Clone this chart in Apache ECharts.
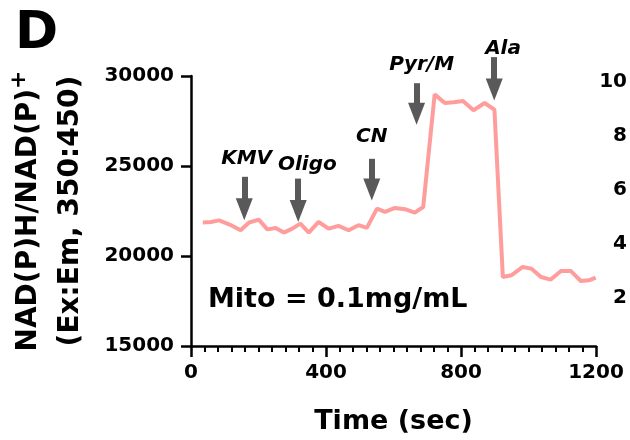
<!DOCTYPE html>
<html>
<head>
<meta charset="utf-8">
<script src="https://cdn.jsdelivr.net/npm/echarts@6.0.0/dist/echarts.min.js"></script>
<style>
  html, body { margin: 0; padding: 0; background: #fff; }
  #main { width: 630px; height: 440px; }
</style>
</head>
<body>
<div id="main"></div>
<script>
// time points (sec) and NAD(P)H signal
var times = [35, 59, 83, 113, 147, 172, 201, 226, 251, 275, 300, 324, 349, 378, 408, 437, 467, 496, 521, 551,
             575, 604, 634, 663, 688, 722, 752, 778, 806, 837, 870, 899, 924, 949, 983, 1008, 1037, 1066, 1096,
             1125, 1155, 1179, 1199];
var signal = [21860, 21890, 21980, 21760, 21430, 21860, 22020, 21480, 21560, 21300, 21520, 21800, 21300, 21890,
              21520, 21670, 21430, 21710, 21560, 22630, 22450, 22670, 22600, 22410, 22720, 28980, 28500, 28540,
              28610, 28100, 28500, 28130, 18830, 18930, 19390, 19300, 18830, 18690, 19170, 19170, 18610, 18650, 18800];

// additions (arrows): shaft top value, arrow head centre value, label position
var arrowNames = ['KMV', 'Oligo', 'CN', 'Pyr/M', 'Ala'];
var arrowTimes = [160, 319, 536, 668, 897];
var arrowTops = [24400, 24300, 25400, 29600, 31050];
var arrowHeads = [22600, 22500, 23700, 27900, 29250];
var labelTimes = [167, 346, 536, 683, 923];
var labelValues = [25400, 25050, 26600, 30600, 31500];

var xTicks = [0, 1200, 400];          // min, max, interval
var yTicks = [15000, 30000, 5000];
var y2Ticks = [0, 10, 2];
var yAnnoMax = 32000;                 // same scale, room above the plot for the arrows

var font = 'DejaVu Sans';
var plain = function (v) { return String(v); };

var lineData = times.map(function (t, i) { return [t, signal[i]]; });

var arrowLines = arrowTimes.map(function (t, i) {
    return [{coord: [t, arrowTops[i]]}, {coord: [t, arrowHeads[i]]}];
});
var arrowLabels = arrowNames.map(function (n, i) {
    return {name: n, coord: [labelTimes[i], labelValues[i]]};
});

// second (invisible) grid sharing the same pixel scale, 90px per 5000, extended to yAnnoMax
var pxPerUnit = 90 / 5000;
var annoTop = 76 - (yAnnoMax - yTicks[1]) * pxPerUnit;

var option = {
    animation: false,
    grid: [
        {left: 190, right: 33, top: 76, bottom: 94},
        {left: 190, right: 33, top: annoTop, bottom: 94}
    ],
    graphic: [
        {type: 'text', left: 15, top: 8,
         style: {text: 'D', fontSize: 52, fontWeight: 'bold', fontFamily: font, fill: '#000'}},
        {type: 'text', left: 208, top: 286,
         style: {text: 'Mito = 0.1mg/mL', fontSize: 27, fontWeight: 'bold', fontFamily: font, fill: '#000'}}
    ],
    xAxis: [
        {
            type: 'value',
            min: xTicks[0], max: xTicks[1], interval: xTicks[2],
            name: 'Time (sec)',
            nameLocation: 'middle',
            nameGap: 62,
            nameTextStyle: {fontSize: 27, fontWeight: 'bold', fontFamily: font, color: '#000'},
            axisLine: {lineStyle: {color: '#000', width: 2.5}},
            axisTick: {length: 11, lineStyle: {color: '#000', width: 2.5}},
            minorTick: {show: true, splitNumber: 10, length: 6, lineStyle: {color: '#000', width: 2}},
            axisLabel: {margin: 17, fontSize: 20, fontWeight: 'bold', fontFamily: font, color: '#000',
                        formatter: plain},
            splitLine: {show: false},
            minorSplitLine: {show: false}
        },
        {
            type: 'value', gridIndex: 1, show: false,
            min: xTicks[0], max: xTicks[1]
        }
    ],
    yAxis: [
        {
            type: 'value',
            min: yTicks[0], max: yTicks[1], interval: yTicks[2],
            name: '{a|NAD(P)H/NAD(P)}{sup|+}\n{b|(Ex:Em, 350:450)}',
            nameLocation: 'middle',
            nameGap: 99,
            nameTextStyle: {
                fontSize: 28, fontWeight: 'bold', fontFamily: font, color: '#000', lineHeight: 42,
                rich: {
                    a: {fontSize: 28, fontWeight: 'bold', fontFamily: font, color: '#000', lineHeight: 42},
                    b: {fontSize: 28, fontWeight: 'bold', fontFamily: font, color: '#000', lineHeight: 42},
                    sup: {fontSize: 22, fontWeight: 'bold', fontFamily: font, color: '#000',
                          verticalAlign: 'top', lineHeight: 22}
                }
            },
            axisLine: {show: true, lineStyle: {color: '#000', width: 2.5}},
            axisTick: {show: true, length: 10, lineStyle: {color: '#000', width: 2.5}},
            axisLabel: {margin: 17, fontSize: 20, fontWeight: 'bold', fontFamily: font, color: '#000',
                        formatter: plain},
            splitLine: {show: false}
        },
        {
            type: 'value',
            position: 'right',
            min: y2Ticks[0], max: y2Ticks[1], interval: y2Ticks[2],
            axisLine: {show: false},
            axisTick: {show: false},
            axisLabel: {
                showMinLabel: false, align: 'right', margin: 31,
                verticalAlign: 'top', lineHeight: 12,
                fontSize: 20, fontWeight: 'bold', fontFamily: font, color: '#000'
            },
            splitLine: {show: false}
        },
        {
            type: 'value', gridIndex: 1, show: false,
            min: yTicks[0], max: yAnnoMax
        }
    ],
    series: [
        {
            type: 'line',
            data: lineData,
            showSymbol: false,
            symbol: 'none',
            lineStyle: {color: '#FF9D9D', width: 4},
            silent: true
        },
        {
            // carrier for the addition arrows and their labels
            type: 'line',
            xAxisIndex: 1,
            yAxisIndex: 2,
            data: [],
            symbol: 'none',
            silent: true,
            markLine: {
                silent: true,
                symbol: ['none', 'triangle'],
                symbolSize: [17, 22],
                label: {show: false},
                lineStyle: {color: '#595959', width: 6, type: 'solid'},
                itemStyle: {color: '#595959'},
                data: arrowLines
            },
            markPoint: {
                silent: true,
                symbol: 'circle',
                symbolSize: 1,
                itemStyle: {color: 'rgba(0,0,0,0)'},
                label: {
                    show: true, position: 'inside', formatter: '{b}',
                    fontSize: 20, fontWeight: 'bold', fontStyle: 'italic', fontFamily: font, color: '#000'
                },
                data: arrowLabels
            }
        }
    ]
};

var myChart = echarts.init(document.getElementById('main'));
myChart.setOption(option);
</script>
</body>
</html>
